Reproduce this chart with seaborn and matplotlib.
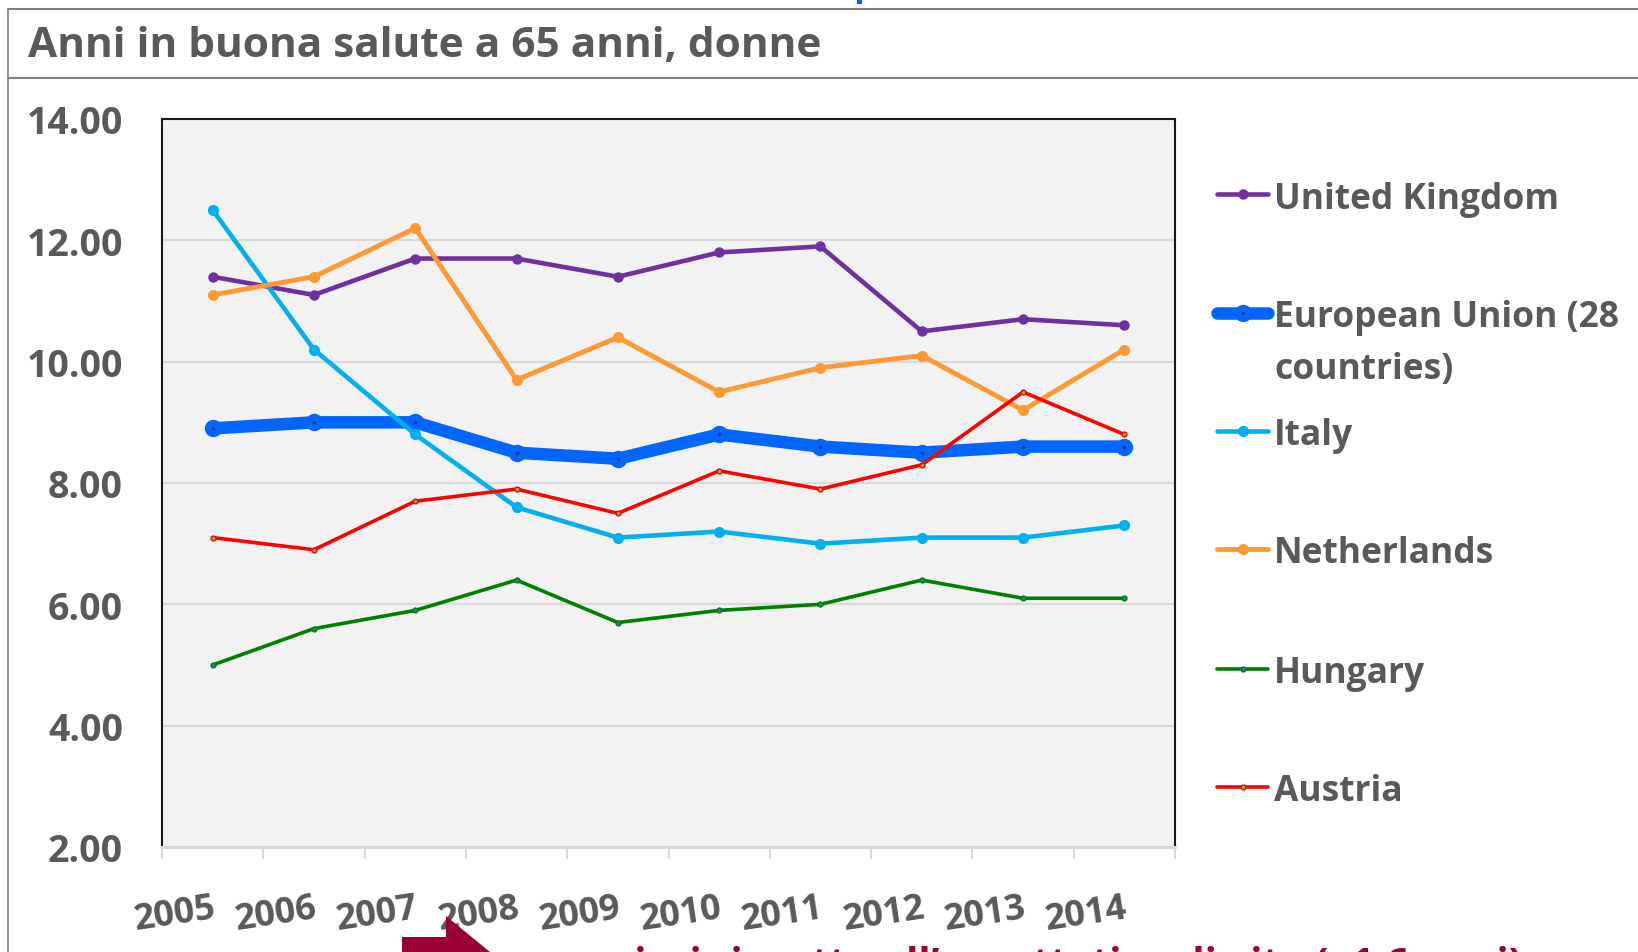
import numpy as np
import pandas as pd
import matplotlib
matplotlib.use("Agg")
import matplotlib.pyplot as plt
import seaborn as sns
from matplotlib.lines import Line2D
from matplotlib.patches import Polygon, Rectangle
from matplotlib import font_manager

# ---------------- data ----------------
years = [2005, 2006, 2007, 2008, 2009, 2010, 2011, 2012, 2013, 2014]
uk = [11.4, 11.1, 11.7, 11.7, 11.4, 11.8, 11.9, 10.5, 10.7, 10.6]
eu28 = [8.9, 9.0, 9.0, 8.5, 8.4, 8.8, 8.6, 8.5, 8.6, 8.6]
italy = [12.5, 10.2, 8.8, 7.6, 7.1, 7.2, 7.0, 7.1, 7.1, 7.3]
netherlands = [11.1, 11.4, 12.2, 9.7, 10.4, 9.5, 9.9, 10.1, 9.2, 10.2]
hungary = [5.0, 5.6, 5.9, 6.4, 5.7, 5.9, 6.0, 6.4, 6.1, 6.1]
austria = [7.1, 6.9, 7.7, 7.9, 7.5, 8.2, 7.9, 8.3, 9.5, 8.8]

series_names = ["United Kingdom", "European Union (28 countries)", "Italy",
                "Netherlands", "Hungary", "Austria"]
series_values = [uk, eu28, italy, netherlands, hungary, austria]
yticks = [2, 4, 6, 8, 10, 12, 14]
title = "Anni in buona salute a 65 anni, donne"
legend_lines = [["United Kingdom"], ["European Union (28", "countries)"], ["Italy"],
                ["Netherlands"], ["Hungary"], ["Austria"]]
footer = "maggiori rispetto all\u2019aspettativa di vita (+1,6 anni)"

# ---------------- styles ----------------
colors = ["#7030A0", "#0066FF", "#00B0F0", "#FF9933", "#008000", "#FF0000"]
lws = [3.3, 9.0, 3.3, 3.5, 2.6, 2.6]
mss = [7.5, 12.5, 8.0, 8.0, 4.5, 4.5]
center_dot = [None, "#3B2E8C", None, None, "#2E6FBF", "#7FBF3F"]

df = pd.DataFrame({
    "year": np.tile(years, len(series_names)),
    "value": np.concatenate(series_values),
    "series": np.repeat(series_names, len(years)),
})

sns.set_theme(style="white")
names = {f.name for f in font_manager.fontManager.ttflist}
base_font = "Open Sans" if "Open Sans" in names else "DejaVu Sans"
plt.rcParams["font.family"] = [base_font, "DejaVu Sans"]

W, H = 1638, 953
fig = plt.figure(figsize=(W / 100, H / 100), dpi=100)
fig.patch.set_facecolor("white")
ax = fig.add_axes([162 / W, 1 - 848 / H, (1175 - 162) / W, (848 - 120) / H])
ax.set_facecolor("#F2F2F2")

for name, col, lw, ms, dot in zip(series_names, colors, lws, mss, center_dot):
    sub = df[df["series"] == name]
    sns.lineplot(data=sub, x="year", y="value", ax=ax, color=col, linewidth=lw,
                 marker="o", markersize=ms, markeredgewidth=0, solid_capstyle="round",
                 legend=False, errorbar=None)
    if dot is not None:
        sns.scatterplot(data=sub, x="year", y="value", ax=ax, color=dot, s=6,
                        linewidth=0, legend=False, zorder=5)

ax.set_xlim(2004.5, 2014.5)
ax.set_ylim(2, 14)
ax.set_yticks(yticks)
ax.set_yticklabels([f"{v:.2f}" for v in yticks])
ax.set_xticks(years)
ax.set_xticklabels([str(y) for y in years], rotation=8.5, ha="right",
                   rotation_mode="anchor", va="top")
ax.set_xticks(np.arange(2004.5, 2015, 1.0), minor=True)
ax.set_xlabel("")
ax.set_ylabel("")
ax.grid(axis="y", color="#D9D9D9", linewidth=1.5)
ax.set_axisbelow(True)
ax.tick_params(axis="y", which="major", length=0, pad=28, labelsize=27,
               labelcolor="#595959")
ax.tick_params(axis="x", which="major", length=0, pad=31, labelsize=26,
               labelcolor="#595959")
ax.tick_params(axis="x", which="minor", length=8.6, width=1.5, color="#D9D9D9",
               bottom=True)
for lab in ax.get_xticklabels() + ax.get_yticklabels():
    lab.set_fontweight("bold")
for side in ["left", "top", "right"]:
    ax.spines[side].set_color("#1a1a1a")
    ax.spines[side].set_linewidth(1.5)
ax.spines["bottom"].set_color("#D9D9D9")
ax.spines["bottom"].set_linewidth(2.2)

def fx(x):
    return x / W

def fy(y):
    return 1 - y / H

# frame lines of the slide
grey = "#808080"
fig.add_artist(Line2D([fx(8), 1], [fy(10), fy(10)], color=grey, lw=1.5))
fig.add_artist(Line2D([fx(8), 1], [fy(79), fy(79)], color=grey, lw=1.5))
fig.add_artist(Line2D([fx(8), fx(8)], [fy(10), 0], color=grey, lw=1.2))
fig.add_artist(Rectangle((fx(857), fy(5)), 5 / W, 5 / H, color="#0066FF", lw=0))

fig.text(fx(28), fy(57), title, fontsize=30.5,
         fontweight="bold", color="#595959", va="baseline", ha="left")

# legend
leg_y = [195, 314, 432, 550, 670, 788]
for lines, yy, col, lw, ms, dot in zip(legend_lines, leg_y, colors, lws, mss, center_dot):
    fig.add_artist(Line2D([fx(1217), fx(1268)], [fy(yy), fy(yy)], color=col, lw=lw,
                          solid_capstyle="round"))
    fig.add_artist(Line2D([fx(1242.5)], [fy(yy)], color=col, marker="o", ms=ms,
                          markeredgewidth=0, lw=0))
    if dot is not None:
        fig.add_artist(Line2D([fx(1242.5)], [fy(yy)], color=dot, marker="o", ms=2.5,
                              markeredgewidth=0, lw=0))
    for k, t in enumerate(lines):
        fig.text(fx(1274), fy(yy + 52 * k), t, fontsize=25.5, fontweight="bold",
                 color="#595959", va="center_baseline", ha="left")

# cut-off footer of the slide
fig.add_artist(Rectangle((fx(402), 0), 47 / W, 15 / H, color="#990033", lw=0))
fig.add_artist(Polygon([[fx(446), fy(917)], [fx(446), 0], [fx(490), 0]], closed=True,
                       color="#990033", lw=0))
fig.text(fx(525), fy(976), footer, fontsize=29, fontweight="bold", color="#990033",
         va="baseline", ha="left")

fig.savefig("out.png", dpi=100)
